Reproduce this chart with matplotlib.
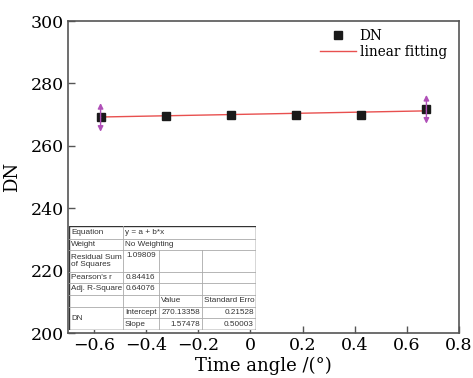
import matplotlib
matplotlib.use("Agg")
import matplotlib.pyplot as plt
import numpy as np

# data
angle = [-0.575, -0.325, -0.075, 0.175, 0.425, 0.675]
dn = [269.1, 269.55, 269.75, 269.75, 270.0, 271.7]
err = [4.6, 0, 0, 0, 0, 4.6]
intercept = 270.13358
slope = 1.57478

xticks = [-0.6, -0.4, -0.2, 0, 0.2, 0.4, 0.6, 0.8]
yticks = [200, 220, 240, 260, 280, 300]

# fit report table
rows = [
    ["Equation", "y = a + b*x", "", ""],
    ["Weight", "No Weighting", "", ""],
    ["Residual Sum\nof Squares", "1.09809", "", ""],
    ["Pearson's r", "0.84416", "", ""],
    ["Adj. R-Square", "0.64076", "", ""],
    ["", "", "Value", "Standard Erro"],
    ["DN", "Intercept", "270.13358", "0.21528"],
    ["", "Slope", "1.57478", "0.50003"],
]

serif = "DejaVu Serif"
fig = plt.figure(figsize=(4.73, 3.78), dpi=100)
ax = fig.add_axes([68/473, 1-333/378, (459-68)/473, (333-21)/378])

ax.plot(angle, dn, "s", color="#1a1a1a", ms=5.5, label="DN", zorder=3)
xf = np.array([angle[0], angle[-1]])
ax.plot(xf, intercept + slope*xf, color="#e8504f", lw=1, label="linear fitting", zorder=2)

for x, y, e in zip(angle, dn, err):
    if e > 0:
        for d in (1, -1):
            ax.annotate("", xy=(x, y + d*e), xytext=(x, y),
                        arrowprops=dict(arrowstyle="-|>", color="#b050b8", lw=1.0,
                                        mutation_scale=8, shrinkA=0, shrinkB=0))

ax.set_xlim(-0.7, 0.8)
ax.set_ylim(200, 300)
ax.set_xticks(xticks)
ax.set_xticklabels(["0" if t == 0 else ("\u2212%g" % -t if t < 0 else "%g" % t) for t in xticks])
ax.set_yticks(yticks)
ax.tick_params(direction="in", length=5, width=1, color="#555555", labelsize=12.5, pad=3)
for lab in ax.get_xticklabels() + ax.get_yticklabels():
    lab.set_family(serif)
for s in ax.spines.values():
    s.set_color("#555555")
    s.set_linewidth(1.2)
ax.set_xlabel("Time angle /(\u00b0)", family=serif, fontsize=13, labelpad=2)
ax.set_ylabel("DN", family=serif, fontsize=13, labelpad=7)

leg = ax.legend(loc="upper right", frameon=False, prop={"family": serif, "size": 9.8},
                handlelength=2.6, handletextpad=0.3, labelspacing=0.1,
                borderaxespad=0.2, bbox_to_anchor=(0.99, 1.0))

# table drawn in its own pixel-space axes
tx = fig.add_axes([69/473, 1-330/378, (256-69)/473, (330-226)/378])
tx.set_xlim(69, 256)
tx.set_ylim(330, 226)
tx.axis("off")
tx.add_patch(plt.Rectangle((69, 226), 187, 104, facecolor="white", edgecolor="#333333", lw=1, zorder=1))
row_y = [226, 239, 250, 272, 283, 295, 307, 318, 330]
col_x = [69, 123, 159, 202, 256]
gray = "#aaaaaa"
for i in range(1, 8):
    y = row_y[i]
    x0 = 123 if i == 7 else 69
    tx.plot([x0, 256], [y, y], color=gray, lw=0.6, zorder=2)
tx.plot([123, 123], [226, 330], color=gray, lw=0.6, zorder=2)
for c in (159, 202):
    tx.plot([c, c], [250, 330], color=gray, lw=0.6, zorder=2)
fs = 5.9
tf = "Liberation Sans"
tc = "#333333"
for i, r in enumerate(rows):
    yc = (row_y[i] + row_y[i+1]) / 2
    for j, t in enumerate(r):
        if not t:
            continue
        kw = dict(fontsize=fs, family=tf, color=tc, zorder=3, linespacing=1.0)
        if i == 6 and j == 0:
            tx.text(71, (row_y[6] + row_y[8]) / 2, t, va="center", ha="left", **kw)
        elif j in (2, 3) and i >= 6:
            tx.text(col_x[j+1] - 2, yc, t, va="center", ha="right", **kw)
        elif 2 <= i <= 4 and j == 1:
            tx.text(col_x[j] + 3, row_y[i] + 2, t, va="top", ha="left", **kw)
        else:
            tx.text(col_x[j] + 2, yc, t, va="center", ha="left", **kw)

fig.savefig("out.png", dpi=100)
